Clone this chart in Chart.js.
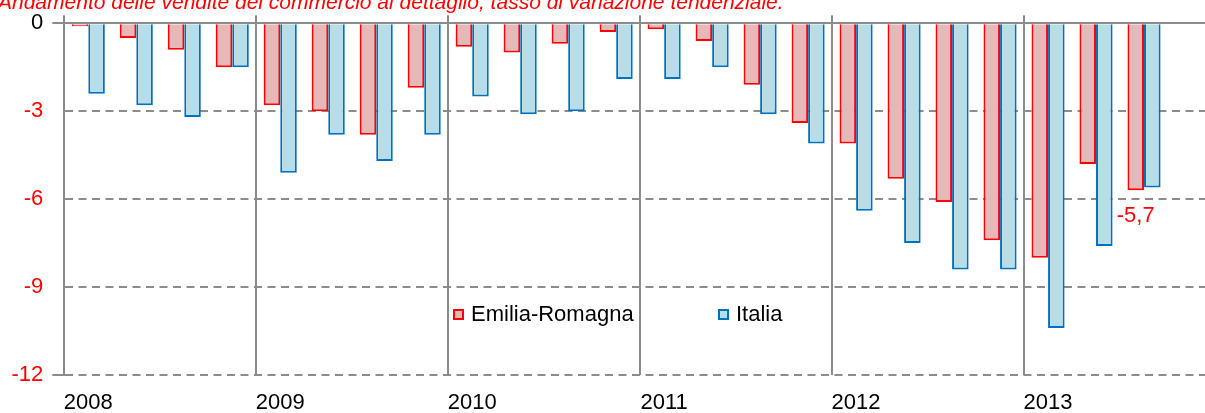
<!DOCTYPE html>
<html>
<head>
<meta charset="utf-8">
<title>Vendite al dettaglio</title>
<script src="https://cdn.jsdelivr.net/npm/chart.js@4.4.1/dist/chart.umd.min.js"></script>
<style>
    html, body { margin: 0; padding: 0; background: #fff; overflow: hidden; }
    body { width: 1205px; height: 413px; position: relative; font-family: "Liberation Sans", Arial, sans-serif; }
    #wrap { position: absolute; left: 0; top: 0; width: 1220px; height: 430px; }
    #title { position: absolute; left: -2px; top: -9px; font-size: 21px; line-height: 21px; font-style: italic; color: #ff0000; white-space: nowrap; z-index: 2; }
    .legend-item { position: absolute; top: 302px; font-size: 22px; line-height: 24px; color: #000; display: flex; align-items: center; white-space: nowrap; z-index: 2; }
    .legend-box { width: 7px; height: 7px; border: 2px solid; margin-right: 7px; }
</style>
</head>
<body>

<div id="title">Andamento delle vendite del commercio al dettaglio, tasso di variazione tendenziale.</div>

<div id="wrap">
    <canvas id="salesChart" width="1220" height="430"></canvas>
</div>

<div class="legend-item" style="left:453px">
    <span class="legend-box" style="border-color:#ff0000;background:#e6b9b8"></span>Emilia-Romagna
</div>
<div class="legend-item" style="left:718px">
    <span class="legend-box" style="border-color:#0070c0;background:#b7dee8"></span>Italia
</div>

<script>
// ===============================
// DATA
// ===============================

const yearLabels = ['2008', '2009', '2010', '2011', '2012', '2013'];
const quarterLabels = ['I', 'II', 'III', 'IV'];

let categories = [];
yearLabels.forEach(y => {
    quarterLabels.forEach(q => categories.push(q + ' ' + y));
});

const emiliaRomagna = [
    -0.1, -0.5, -0.9, -1.5,
    -2.8, -3.0, -3.8, -2.2,
    -0.8, -1.0, -0.7, -0.3,
    -0.2, -0.6, -2.1, -3.4,
    -4.1, -5.3, -6.1, -7.4,
    -8.0, -4.8, -5.7, null
];

const italia = [
    -2.4, -2.8, -3.2, -1.5,
    -5.1, -3.8, -4.7, -3.8,
    -2.5, -3.1, -3.0, -1.9,
    -1.9, -1.5, -3.1, -4.1,
    -6.4, -7.5, -8.4, -8.4,
    -10.4, -7.6, -5.6, null
];

const yTicks = { min: -12, max: 0, step: 3 };

// index of the labelled value (last Emilia-Romagna quarter)
const labelIndex = 22;


// ===============================
// STYLE
// ===============================

const gray = '#8c8c8c';
const red = '#ff0000';

Chart.defaults.font.family = '"Liberation Sans", Arial, sans-serif';
Chart.defaults.font.size = 22;


// value label under the last red bar
const lastValueLabel = {
    id: 'lastValueLabel',
    afterDatasetsDraw(chart) {
        let bar = chart.getDatasetMeta(0).data[labelIndex];
        let ctx = chart.ctx;
        ctx.save();
        ctx.font = '22px "Liberation Sans", Arial, sans-serif';
        ctx.fillStyle = red;
        ctx.textAlign = 'center';
        ctx.textBaseline = 'middle';
        ctx.fillText(String(emiliaRomagna[labelIndex]).replace('.', ','), bar.x, bar.y + 26);
        ctx.restore();
    }
};


// ===============================
// CHART
// ===============================

const ctx = document.getElementById('salesChart').getContext('2d');

let salesChart = new Chart(ctx, {

    type: 'bar',

    data: {
        labels: categories,
        datasets: [{
            label: 'Emilia-Romagna',
            data: emiliaRomagna,
            backgroundColor: '#e6b9b8',
            borderColor: red,
            borderWidth: 2
        }, {
            label: 'Italia',
            data: italia,
            backgroundColor: '#b7dee8',
            borderColor: '#0070c0',
            borderWidth: 2
        }]
    },

    options: {
        responsive: false,
        animation: false,
        devicePixelRatio: 1,
        layout: { padding: { top: 15.3, left: 2.5, right: 4, bottom: 0 } },
        datasets: { bar: { categoryPercentage: 0.69, barPercentage: 1 } },
        plugins: {
            legend: { display: false },
            tooltip: { enabled: false }
        },
        scales: {
            x: {
                position: 'bottom',
                offset: true,
                grid: { display: false, drawTicks: false },
                border: { display: false },
                ticks: {
                    autoSkip: false,
                    maxRotation: 0,
                    padding: 14.3,
                    color: '#000',
                    callback: (v, i) => i % 4 === 0 ? yearLabels[i / 4] : ''
                }
            },
            xTop: {
                type: 'category',
                position: 'top',
                offset: true,
                grid: {
                    offset: true,
                    lineWidth: 2,
                    tickLength: 8,
                    color: c => c.index % 4 === 0 ? gray : 'transparent'
                },
                border: { display: true, color: gray, width: 2, z: 1 },
                ticks: { display: false }
            },
            y: {
                min: yTicks.min,
                max: yTicks.max,
                ticks: {
                    stepSize: yTicks.step,
                    padding: 9,
                    color: c => c.tick.value === 0 ? '#000' : red
                },
                grid: {
                    color: gray,
                    lineWidth: 2,
                    tickLength: 12,
                    tickColor: c => (c.tick && (c.tick.value === 0 || c.tick.value === yTicks.min)) ? gray : 'transparent'
                },
                border: {
                    display: true,
                    color: gray,
                    width: 2,
                    dash: c => (c.tick && c.tick.value === 0) ? [] : [8, 5.5]
                }
            }
        }
    },

    plugins: [lastValueLabel]
});
</script>
</body>
</html>
